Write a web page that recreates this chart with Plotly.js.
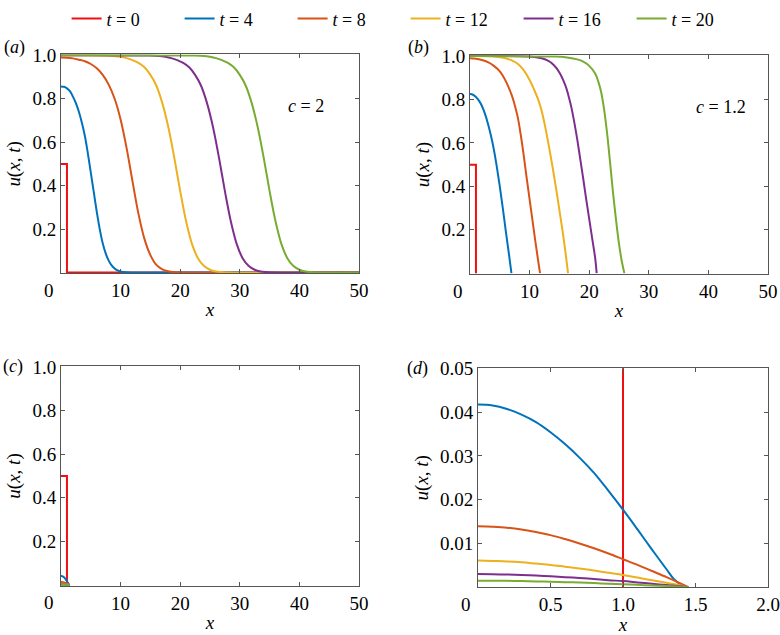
<!DOCTYPE html>
<html><head><meta charset="utf-8">
<script src="https://cdn.plot.ly/plotly-3.0.1.min.js"></script>
<style>html,body{margin:0;padding:0;background:#fff}#chart{width:780px;height:635px}</style>
</head><body><div id="chart"></div>
<script>
// ---------- data ----------
const seriesNames = ['<i>t</i> = 0', '<i>t</i> = 4', '<i>t</i> = 8', '<i>t</i> = 12', '<i>t</i> = 16', '<i>t</i> = 20'];

// panel (a), c = 2
const aX0 = [0, 1, 1, 50];
const aU0 = [0.5, 0.5, 0, 0];
const aX4 = [0,0.5,1,1.5,2,2.5,3,3.5,4,4.5,5,5.5,6,6.5,7,7.5,8,8.5,9,9.5,10,11,12,50];
const aU4 = [0.857,0.855,0.848,0.835,0.81,0.78,0.74,0.69,0.63,0.55,0.46,0.37,0.28,0.2,0.135,0.088,0.055,0.033,0.019,0.01,0.005,0.001,0,0];
const aX8 = [0,1,2,3,4,5,6,7,8,9,10,11,12,13,14,15,16,17,18,19,20,50];
const aU8 = [0.99,0.989,0.986,0.98,0.973,0.96,0.94,0.91,0.865,0.80,0.705,0.574,0.42,0.27,0.155,0.08,0.035,0.015,0.006,0.002,0,0];
const aX12 = [0,8,10,11,12,13,14,15,16,17,18,19,20,21,22,23,24,25,26,27,28,50];
const aU12 = [1,0.998,0.993,0.987,0.978,0.965,0.945,0.91,0.86,0.78,0.67,0.53,0.375,0.235,0.13,0.065,0.03,0.013,0.005,0.002,0,0];
const aX16 = [0,14.5,16.5,17.5,18.5,19.5,20.5,21.5,22.5,23.5,24.5,25.5,26.5,27.5,28.5,29.5,30.5,31.5,32.5,33.5,34.5,35.5,50];
const aU16 = [1,0.999,0.997,0.993,0.987,0.978,0.965,0.945,0.91,0.86,0.78,0.67,0.53,0.375,0.235,0.13,0.065,0.03,0.013,0.005,0.002,0,0];
const aX20 = [0,22,24,25,26,27,28,29,30,31,32,33,34,35,36,37,38,39,40,41,42,43,50];
const aU20 = [1,0.999,0.997,0.993,0.987,0.978,0.965,0.945,0.91,0.86,0.78,0.67,0.53,0.375,0.235,0.13,0.065,0.03,0.013,0.005,0.002,0,0];

// panel (b), c = 1.2
const bX0 = [0, 1, 1];
const bU0 = [0.5, 0.5, 0];
const bX4 = [0,0.5,1,1.5,2,2.5,3,3.5,4,4.5,5,5.5,6,6.5,6.95];
const bU4 = [0.825,0.822,0.812,0.795,0.77,0.735,0.69,0.635,0.57,0.49,0.40,0.30,0.195,0.095,0];
const bX8 = [0,1,2,3,4,5,6,7,7.5,8,8.5,9,9.5,10,10.5,11,11.5,11.75];
const bU8 = [0.99,0.988,0.982,0.972,0.955,0.93,0.885,0.82,0.775,0.72,0.64,0.545,0.44,0.34,0.24,0.14,0.045,0];
const bX12 = [0,4,6,7,8,9,10,11,11.5,12,12.5,13,13.5,14,14.5,15,15.5,16,16.45];
const bU12 = [1,0.998,0.99,0.98,0.965,0.935,0.89,0.83,0.795,0.75,0.69,0.62,0.545,0.465,0.38,0.29,0.2,0.1,0];
const bX16 = [0,10,12,13,14,15,16,16.5,17,17.5,18,18.5,19,19.5,20,20.5,21,21.25];
const bU16 = [1,0.998,0.99,0.98,0.96,0.925,0.865,0.82,0.765,0.695,0.615,0.525,0.435,0.34,0.25,0.16,0.07,0];
const bX20 = [0,14,16,18,19,20,21,21.5,22,22.5,23,23.5,24,24.5,25,25.5,25.9];
const bU20 = [1,0.998,0.995,0.985,0.975,0.955,0.92,0.885,0.835,0.755,0.645,0.51,0.37,0.245,0.135,0.05,0];

// panels (c) and (d): decaying case
const dX0 = [0, 1, 1];
const dU0 = [0.5, 0.5, 0];
const dX4 = [0,0.1,0.2,0.3,0.4,0.5,0.6,0.7,0.8,0.9,1.0,1.1,1.2,1.3,1.35,1.4,1.45];
const dU4 = [0.0417,0.0415,0.0407,0.0394,0.0377,0.0354,0.0327,0.0296,0.0261,0.0220,0.0177,0.0132,0.0086,0.0041,0.0019,0.0006,0];
const dXs = [0,0.1,0.2,0.3,0.4,0.5,0.6,0.7,0.8,0.9,1.0,1.1,1.2,1.3,1.4,1.45];
const dU8 = [0.0139,0.0138,0.0136,0.0132,0.0126,0.0119,0.0110,0.0100,0.0089,0.0077,0.0064,0.0051,0.0037,0.0023,0.0008,0];
const dU12 = [0.0061,0.0060,0.0059,0.0057,0.0054,0.0051,0.0047,0.0043,0.0038,0.0033,0.0028,0.0022,0.0016,0.0010,0.0004,0];
const dU16 = [0.0030,0.00298,0.0029,0.0028,0.00266,0.0025,0.0023,0.0021,0.00187,0.0016,0.0014,0.0011,0.0008,0.0005,0.0002,0];
const dU20 = [0.0015,0.00149,0.00146,0.0014,0.00133,0.00125,0.00116,0.00106,0.00094,0.00081,0.00069,0.00055,0.00041,0.00026,0.0001,0];

// axis ticks
const xTicksL = [0,10,20,30,40,50];
const xTextL = ['','10','20','30','40','50'];
const yTicksL = [0.2,0.4,0.6,0.8,1.0];
const yTextL = ['0.2','0.4','0.6','0.8','1.0'];
const xTicksD = [0,0.5,1,1.5,2];
const xTextD = ['','0.5','1.0','1.5','2.0'];
const yTicksD = [0.01,0.02,0.03,0.04,0.05];
const yTextD = ['0.01','0.02','0.03','0.04','0.05'];

// ---------- style ----------
const colors = ['#f01010', '#0072bd', '#d95319', '#edb120', '#7e2f8e', '#77ac30'];
const F = 'Liberation Serif';
const frame = '#555';

const panels = [
  {xa:'x',  ya:'y',  xs:[aX0,aX4,aX8,aX12,aX16,aX20], us:[aU0,aU4,aU8,aU12,aU16,aU20], legend:true},
  {xa:'x2', ya:'y2', xs:[bX0,bX4,bX8,bX12,bX16,bX20], us:[bU0,bU4,bU8,bU12,bU16,bU20], legend:false},
  {xa:'x3', ya:'y3', xs:[dX0,dX4,dXs,dXs,dXs,dXs], us:[dU0,dU4,dU8,dU12,dU16,dU20], legend:false},
  {xa:'x4', ya:'y4', xs:[dX0,dX4,dXs,dXs,dXs,dXs], us:[dU0,dU4,dU8,dU12,dU16,dU20], legend:false}
];

const traces = [];
panels.forEach(p => {
  for (let i = 0; i < 6; i++) {
    traces.push({
      type:'scatter', mode:'lines', x:p.xs[i], y:p.us[i],
      xaxis:p.xa, yaxis:p.ya, name:seriesNames[i], legendgroup:'g'+i,
      showlegend:p.legend, hoverinfo:'skip',
      line:{color:colors[i], width:2, shape: i === 0 ? 'linear' : 'spline', smoothing:1}
    });
  }
});

function xaxis(domain, range, tv, tt, anchor) {
  return {domain, range, anchor, tickvals:tv, ticktext:tt, showline:true, mirror:'ticks',
    linecolor:frame, linewidth:1, ticks:'inside', ticklen:4, tickcolor:frame,
    showgrid:false, zeroline:false, fixedrange:true,
    tickfont:{family:F, size:19, color:'#000'},
    title:{text:'<i>x</i>', font:{family:F, size:19, color:'#000'}, standoff:2}};
}
function yaxis(domain, range, tv, tt, anchor) {
  return {domain, range, anchor, tickvals:tv, ticktext:tt, showline:true, mirror:'ticks',
    linecolor:frame, linewidth:1, ticks:'inside', ticklen:4, tickcolor:frame,
    showgrid:false, zeroline:false, fixedrange:true,
    tickfont:{family:F, size:19, color:'#000'},
    title:{text:'<i>u</i>(<i>x</i>, <i>t</i>)', font:{family:F, size:19, color:'#000'}, standoff:6}};
}

const W = 780, H = 635;
const dA = {x:[61/W, 359/W], y:[1-271.7/H, 1-51.7/H]};
const dB = {x:[470/W, 768/W], y:[1-272.3/H, 1-52.5/H]};
const dC = {x:[61/W, 359/W], y:[1-585.7/H, 1-364.7/H]};
const dD = {x:[478/W, 768/W], y:[1-587/H, 1-367/H]};

function zeroLabel(xref, dom) {
  return {xref:xref, yref:'paper', x:0, y:dom.y[0], xanchor:'center', yanchor:'middle',
    xshift:-12, yshift:-17, text:'0', showarrow:false, font:{family:F, size:19, color:'#000'}};
}
function panelLabel(letter, px, py) {
  return {xref:'paper', yref:'paper', x:px/W, y:1-py/H, xanchor:'left', yanchor:'middle',
    text:'(<i>'+letter+'</i>)', showarrow:false, font:{family:F, size:18, color:'#000'}};
}

const layout = {
  width:W, height:H, margin:{l:0, r:0, t:0, b:0},
  paper_bgcolor:'#fff', plot_bgcolor:'#fff',
  font:{family:F, size:18, color:'#000'},
  showlegend:true,
  legend:{orientation:'h', x:0.52, xanchor:'center', y:1-16/H, yanchor:'middle',
    font:{family:F, size:18, color:'#000'}, entrywidth:68, entrywidthmode:'pixels',
    bgcolor:'rgba(0,0,0,0)', borderwidth:0, tracegroupgap:0},
  xaxis: xaxis(dA.x, [0,50], xTicksL, xTextL, 'y'),
  yaxis: yaxis(dA.y, [-0.004,1.004], yTicksL, yTextL, 'x'),
  xaxis2: xaxis(dB.x, [0,50], xTicksL, xTextL, 'y2'),
  yaxis2: yaxis(dB.y, [-0.004,1.004], yTicksL, yTextL, 'x2'),
  xaxis3: xaxis(dC.x, [0,50], xTicksL, xTextL, 'y3'),
  yaxis3: yaxis(dC.y, [-0.004,1.004], yTicksL, yTextL, 'x3'),
  xaxis4: xaxis(dD.x, [0,2], xTicksD, xTextD, 'y4'),
  yaxis4: yaxis(dD.y, [0,0.05], yTicksD, yTextD, 'x4'),
  annotations:[
    zeroLabel('x', dA), zeroLabel('x2', dB), zeroLabel('x3', dC), zeroLabel('x4', dD),
    panelLabel('a', 2, 45), panelLabel('b', 406, 45), panelLabel('c', 1, 365), panelLabel('d', 405, 367),
    {xref:'x', yref:'y', x:41.1, y:0.767, text:'<i>c</i> = 2', showarrow:false, font:{family:F, size:18, color:'#000'}},
    {xref:'x2', yref:'y2', x:42.1, y:0.764, text:'<i>c</i> = 1.2', showarrow:false, font:{family:F, size:18, color:'#000'}}
  ]
};

Plotly.newPlot('chart', traces, layout, {displayModeBar:false, staticPlot:true});
</script></body></html>
